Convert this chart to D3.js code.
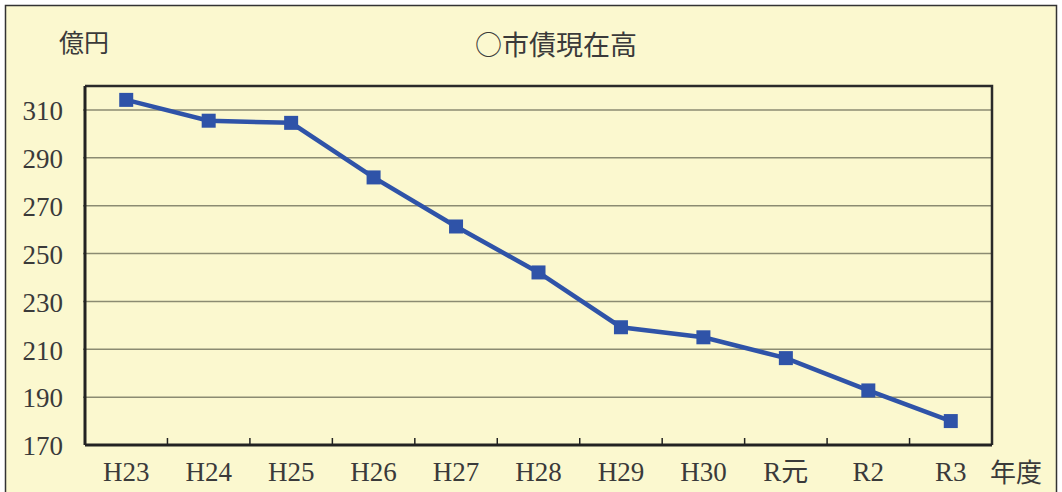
<!DOCTYPE html>
<html>
<head>
<meta charset="utf-8">
<script src="https://cdn.jsdelivr.net/npm/d3@7"></script>
<style>
  body { margin: 0; background: #fff; }
  svg { display: block; }
  .tick text { font-family: "Liberation Serif", "DejaVu Serif", serif; fill: #3a3a3a; }
  .jp { font-family: "Noto Sans CJK JP", sans-serif; fill: #3a3a3a; }
</style>
</head>
<body>
<svg width="1062" height="492"></svg>
<script>
// data
var years = ["H23", "H24", "H25", "H26", "H27", "H28", "H29", "H30", "R元", "R2", "R3"];
var debt = [314.2, 305.5, 304.6, 281.8, 261.3, 242.1, 219.2, 215.0, 206.3, 192.8, 180.0];
var yTicks = [170, 190, 210, 230, 250, 270, 290, 310];

var svg = d3.select("svg"),
    margin = {top: 86, right: 70, bottom: 47, left: 85},
    width = +svg.attr("width") - margin.left - margin.right,
    height = +svg.attr("height") - margin.top - margin.bottom;

// chart area background + outer frame
svg.append("rect")
    .attr("x", 5.5).attr("y", 5.5)
    .attr("width", 1051).attr("height", 500)
    .attr("fill", "#fbf8cf")
    .attr("stroke", "#333")
    .attr("stroke-width", 1.5);

var g = svg.append("g")
    .attr("transform", "translate(" + margin.left + "," + margin.top + ")");

var x = d3.scaleBand().domain(years).range([0, width]);
var y = d3.scaleLinear().domain([170, 320]).range([height, 0]);

// gridlines
g.append("g")
    .selectAll("line")
    .data(yTicks.slice(1))
    .enter().append("line")
    .attr("x1", -2).attr("x2", width)
    .attr("y1", function (d) { return y(d); })
    .attr("y2", function (d) { return y(d); })
    .attr("stroke", "#8b8b72")
    .attr("stroke-width", 1.5);

// plot frame (top + right)
g.append("path")
    .attr("d", "M0,0H" + width + "V" + height)
    .attr("fill", "none")
    .attr("stroke", "#2a2a2a")
    .attr("stroke-width", 2.5);

// y axis
var yAxis = g.append("g")
    .call(d3.axisLeft(y).tickValues(yTicks).tickSize(0).tickPadding(22));
yAxis.select(".domain").attr("stroke", "#222").attr("stroke-width", 3)
    .attr("d", "M0,0V" + height);
yAxis.selectAll(".tick text").attr("font-size", 27).attr("dy", "0.36em");

// x axis: ticks on band boundaries, pointing inward
var xAxis = g.append("g")
    .attr("transform", "translate(0," + height + ")")
    .call(d3.axisBottom(x).tickSize(0).tickPadding(17));
xAxis.select(".domain").attr("stroke", "#222").attr("stroke-width", 3)
    .attr("d", "M0,0H" + width);
xAxis.selectAll(".tick text").attr("font-size", 27).attr("dy", "0.72em")
    .style("font-family", function (d) { return d === "R元" ? "'Liberation Serif', 'Noto Sans CJK JP', serif" : null; });

xAxis.selectAll(".bound")
    .data(years.slice(1))
    .enter().append("line")
    .attr("class", "bound")
    .attr("x1", function (d) { return x(d); })
    .attr("x2", function (d) { return x(d); })
    .attr("y1", 0).attr("y2", -7)
    .attr("stroke", "#222")
    .attr("stroke-width", 1.5);

// series line
var line = d3.line()
    .x(function (d, i) { return x(years[i]) + x.bandwidth() / 2; })
    .y(function (d) { return y(d); });

g.append("path")
    .datum(debt)
    .attr("d", line)
    .attr("fill", "none")
    .attr("stroke", "#2f53a8")
    .attr("stroke-width", 4.5);

g.selectAll(".pt")
    .data(debt)
    .enter().append("rect")
    .attr("class", "pt")
    .attr("x", function (d, i) { return x(years[i]) + x.bandwidth() / 2 - 7; })
    .attr("y", function (d) { return y(d) - 7; })
    .attr("width", 14).attr("height", 14)
    .attr("fill", "#2f53a8");

// labels
svg.append("text").attr("class", "jp")
    .attr("x", 59).attr("y", 52)
    .attr("font-size", 25)
    .text("億円");

svg.append("text").attr("class", "jp")
    .attr("x", 556).attr("y", 55)
    .attr("text-anchor", "middle")
    .attr("font-size", 27)
    .text("○市債現在高");

svg.append("text").attr("class", "jp")
    .attr("x", 990).attr("y", 482)
    .attr("font-size", 26)
    .text("年度");
</script>
</body>
</html>
